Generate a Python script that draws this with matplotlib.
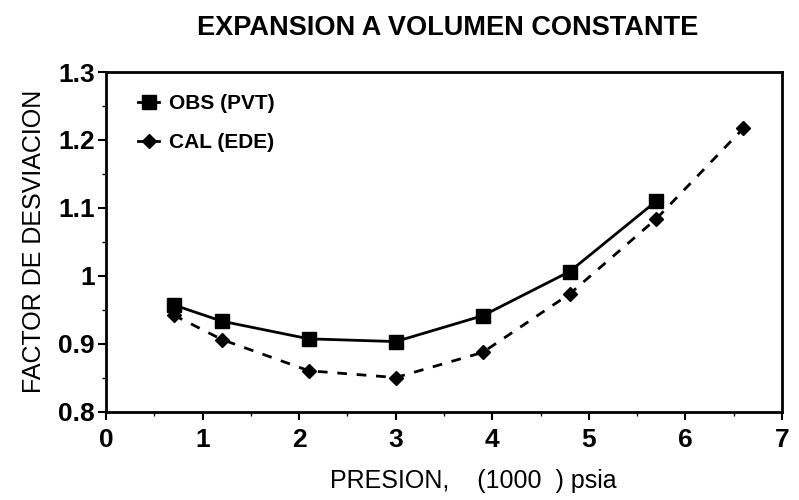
import matplotlib
matplotlib.use("Agg")
import matplotlib.pyplot as plt
from matplotlib.ticker import MultipleLocator

# Presion (miles de psia) y factor de desviacion Z
p_obs = [0.7, 1.2, 2.1, 3.0, 3.9, 4.8, 5.7]
z_obs = [0.957, 0.933, 0.907, 0.903, 0.941, 1.006, 1.110]

p_cal = [0.7, 1.2, 2.1, 3.0, 3.9, 4.8, 5.7, 6.6]
z_cal = [0.942, 0.906, 0.860, 0.850, 0.887, 0.973, 1.084, 1.217]

x_ticks = [0, 1, 2, 3, 4, 5, 6, 7]
y_ticks = [0.8, 0.9, 1.0, 1.1, 1.2, 1.3]
y_tick_labels = ["0.8", "0.9", "1", "1.1", "1.2", "1.3"]

plt.rcParams["font.family"] = ["Liberation Sans", "DejaVu Sans"]

fig = plt.figure(figsize=(7.99, 5.0), dpi=100)
ax = fig.add_axes([0.1327, 0.177, 0.846, 0.679])

ax.plot(p_obs, z_obs, color="black", lw=2.0, marker="s", ms=10,
        label="OBS (PVT)")
ax.plot(p_cal, z_cal, color="black", lw=2.0, ls=(0, (3.5, 3.5)),
        marker="D", ms=7.5, label="CAL (EDE)")

ax.set_xlim(0, 7)
ax.set_ylim(0.8, 1.3)
ax.set_xticks(x_ticks)
ax.set_xticklabels([str(v) for v in x_ticks], fontsize=19, fontweight="bold")
ax.set_yticks(y_ticks)
ax.set_yticklabels(y_tick_labels, fontsize=19, fontweight="bold")
ax.xaxis.set_minor_locator(MultipleLocator(0.5))
ax.yaxis.set_minor_locator(MultipleLocator(0.05))
ax.tick_params(which="major", direction="out", length=6, width=1.5)
ax.tick_params(axis="x", which="major", pad=6)
ax.tick_params(axis="y", which="major", pad=2)
ax.tick_params(which="minor", direction="out", length=3, width=1.0)

for s in ax.spines.values():
    s.set_linewidth(2.0)

ax.set_xlabel("PRESION,    (1000  ) psia", fontsize=18)
ax.xaxis.set_label_coords(0.543, -0.17)
ax.set_ylabel("FACTOR DE DESVIACION", fontsize=18, labelpad=9)
fig.suptitle("EXPANSION A VOLUMEN CONSTANTE", x=0.56, y=0.97,
             fontsize=19.5, fontweight="bold")

leg = ax.legend(loc="upper left", frameon=False, handlelength=1.0,
                handletextpad=0.45, labelspacing=0.95,
                bbox_to_anchor=(0.02, 0.99),
                prop={"weight": "bold", "size": 15})
for h in leg.legend_handles:
    h.set_linestyle("-")

fig.savefig("out.png", dpi=100)
